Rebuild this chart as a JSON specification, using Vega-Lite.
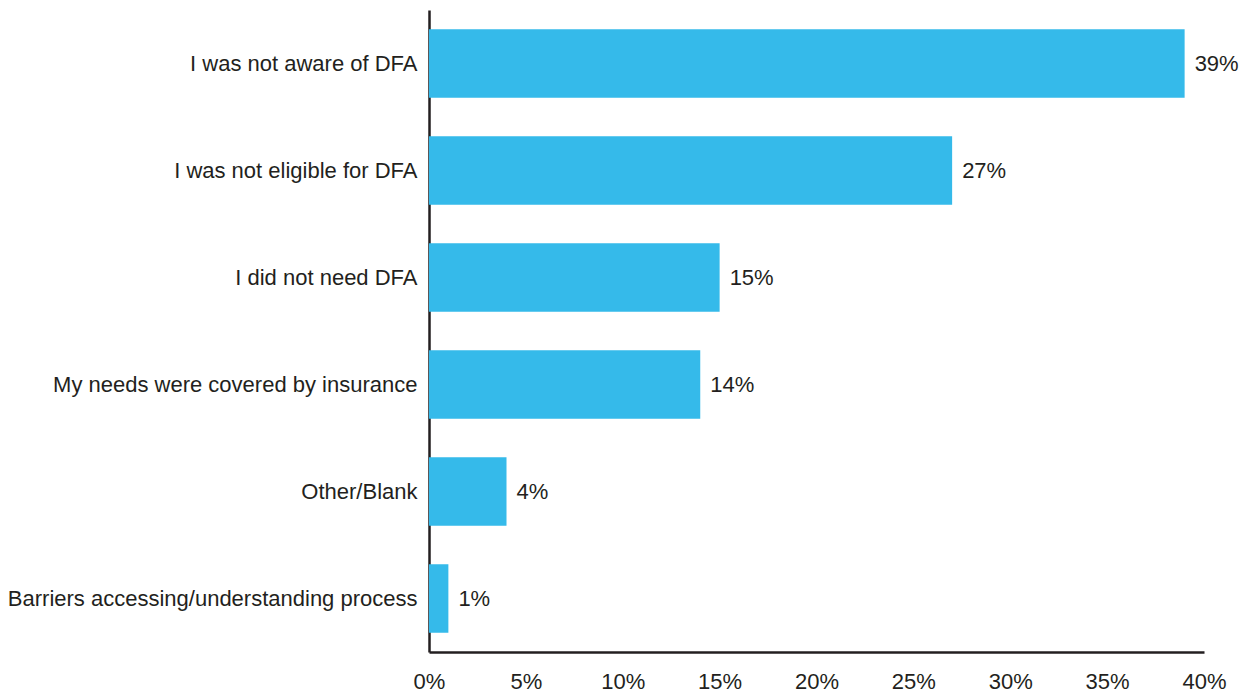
{
  "$schema": "https://vega.github.io/schema/vega-lite/v6.json",
  "autosize": "none",
  "width": 775,
  "height": 642,
  "padding": {"left": 429, "top": 10, "right": 40, "bottom": 42},
  "background": "white",
  "config": {"view": {"stroke": null}, "font": "Liberation Sans"},
  "data": {"values": [
    {"reason": "I was not aware of DFA", "share": 0.39},
    {"reason": "I was not eligible for DFA", "share": 0.27},
    {"reason": "I did not need DFA", "share": 0.15},
    {"reason": "My needs were covered by insurance", "share": 0.14},
    {"reason": "Other/Blank", "share": 0.04},
    {"reason": "Barriers accessing/understanding process", "share": 0.01}
  ]},
  "encoding": {
    "y": {"field": "reason", "type": "nominal", "sort": null,
      "scale": {"paddingInner": 0.36, "paddingOuter": 0.18},
      "axis": {"title": null, "ticks": false, "domainColor": "#231f20", "domainWidth": 2.5,
        "labelFont": "Liberation Sans", "labelFontSize": 22, "labelColor": "#231f20", "labelPadding": 12, "labelLimit": 500}},
    "x": {"field": "share", "type": "quantitative",
      "scale": {"domain": [0, 0.4]},
      "axis": {"title": null, "ticks": false, "grid": false, "values": [0, 0.05, 0.1, 0.15, 0.2, 0.25, 0.3, 0.35, 0.4],
        "format": ".0%", "domainColor": "#231f20", "domainWidth": 2.5,
        "labelFont": "Liberation Sans", "labelFontSize": 22, "labelColor": "#231f20", "labelPadding": 19, "labelFlush": false}}
  },
  "layer": [
    {"mark": {"type": "bar", "color": "#35BAEA"}},
    {"mark": {"type": "text", "align": "left", "dx": 10, "font": "Liberation Sans", "fontSize": 22, "color": "#231f20"},
      "encoding": {"text": {"field": "share", "type": "quantitative", "format": ".0%"}}}
  ]
}
